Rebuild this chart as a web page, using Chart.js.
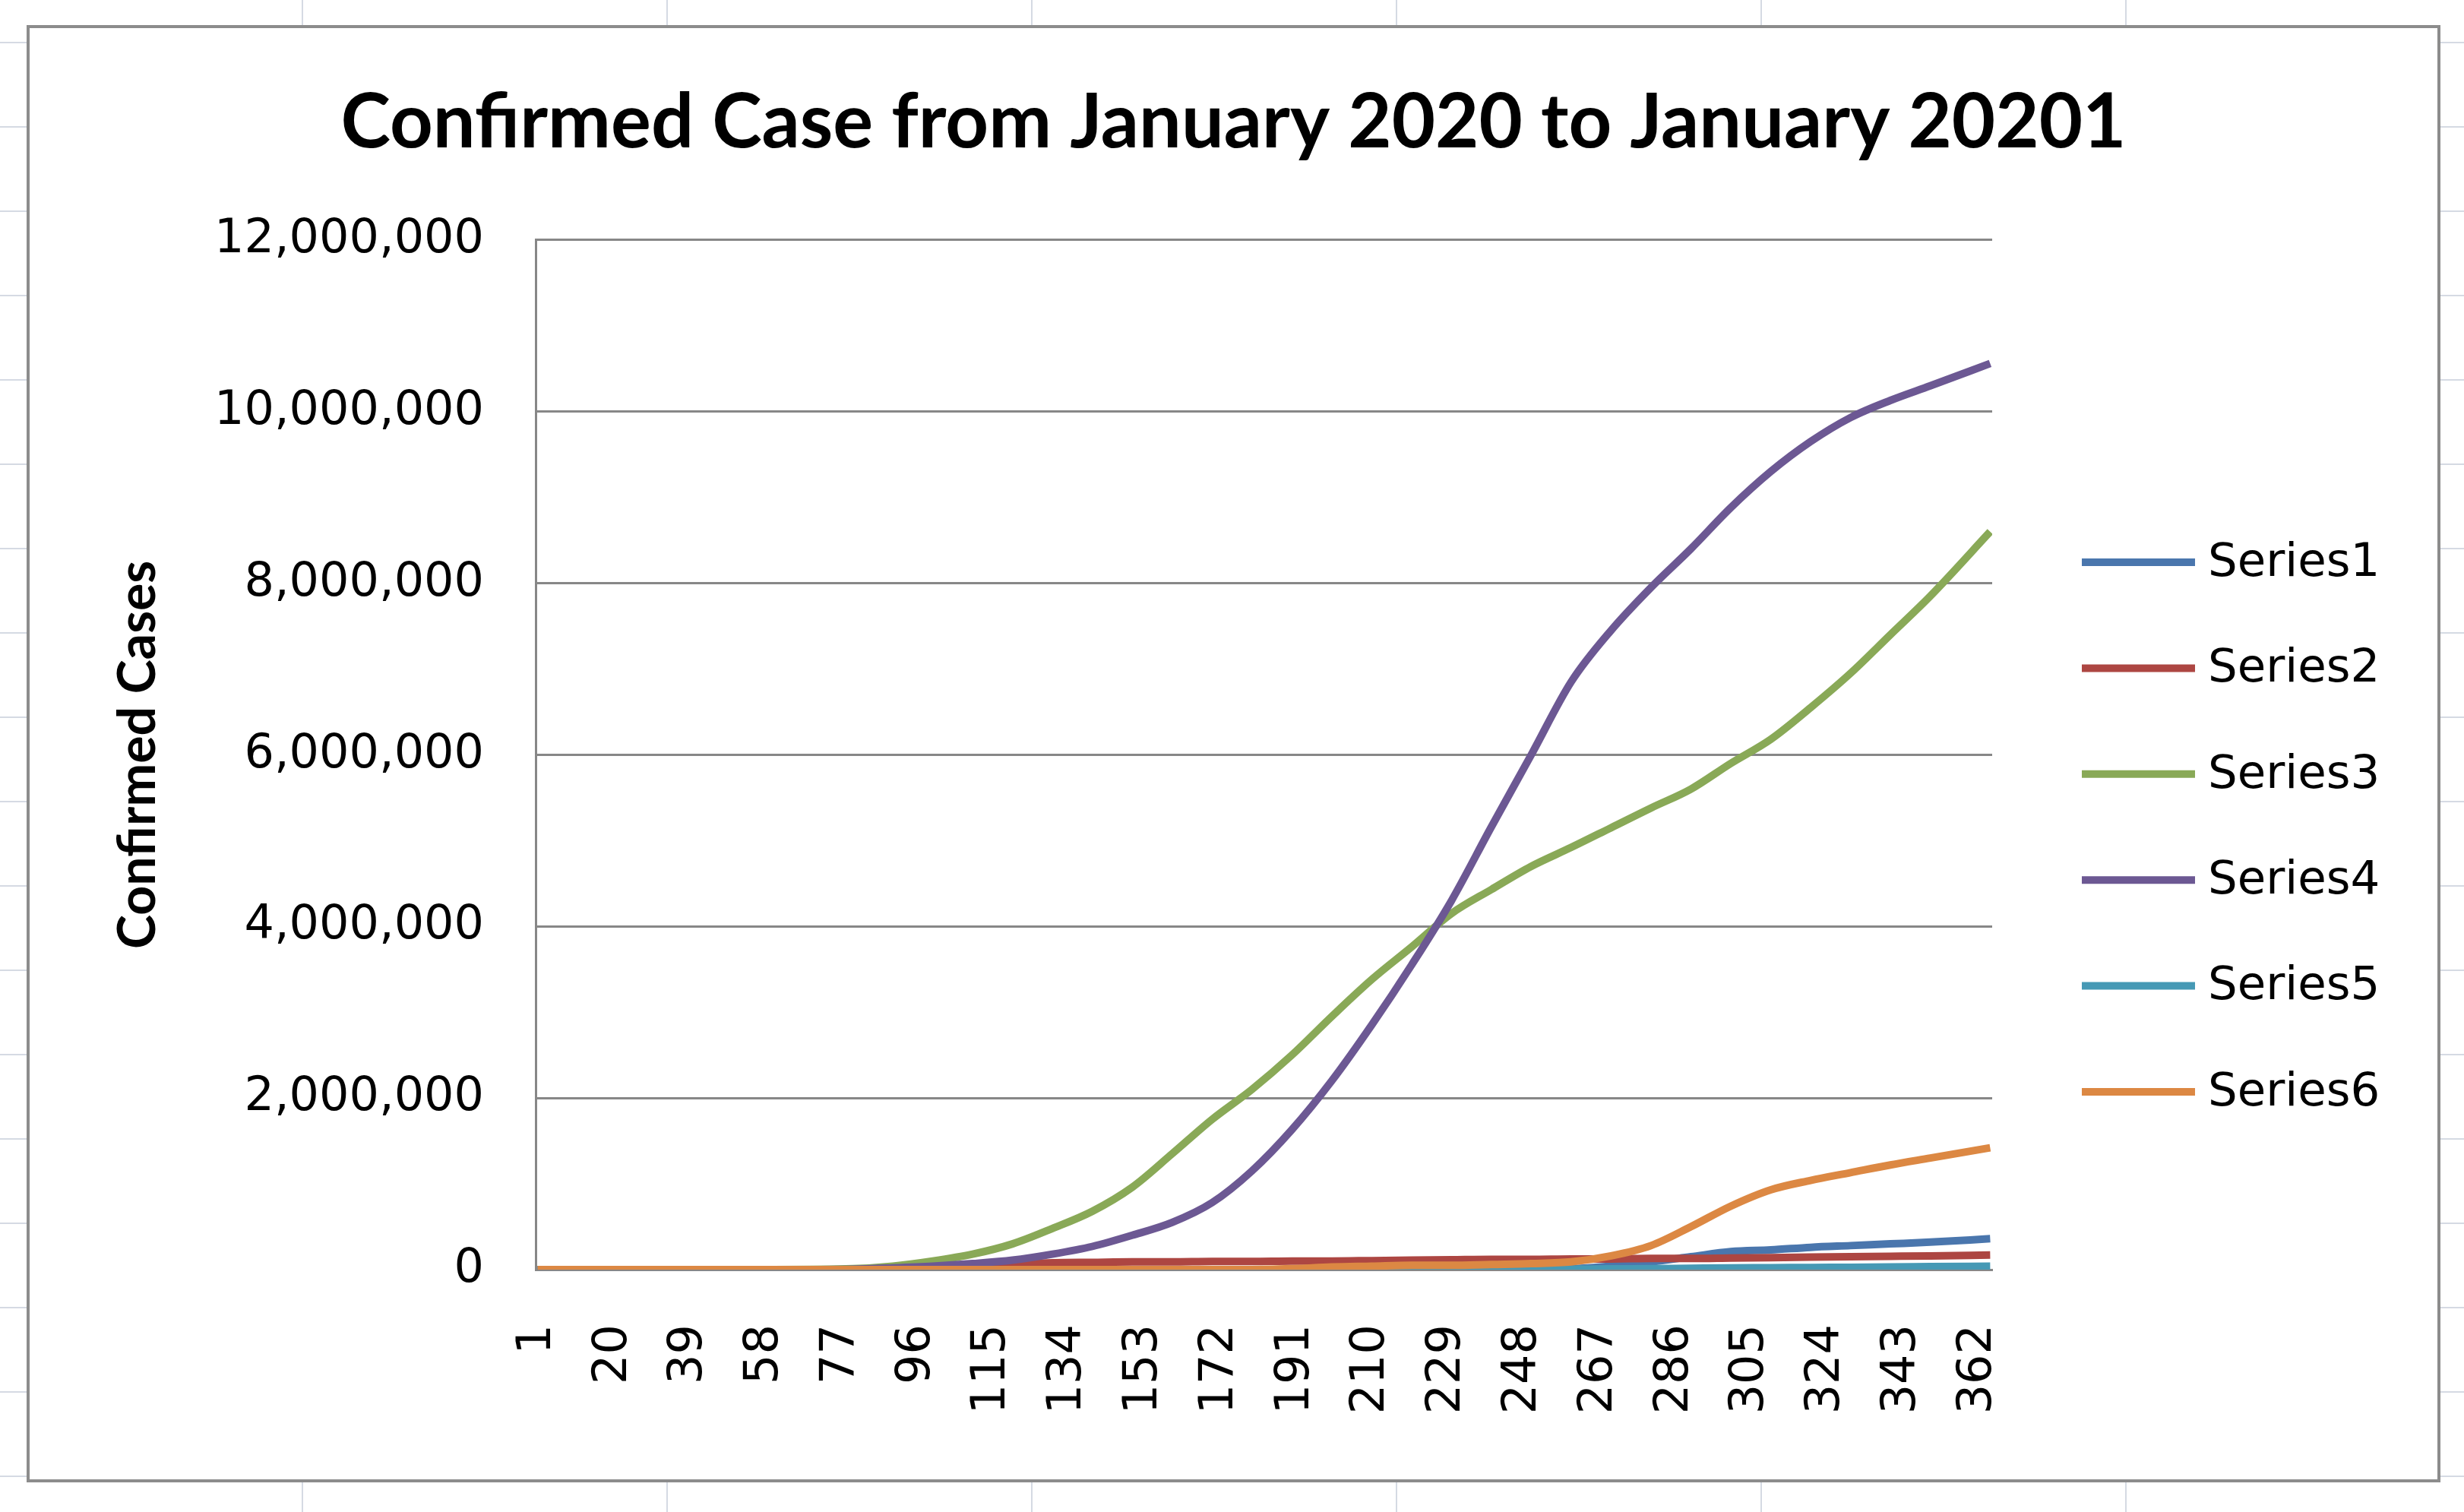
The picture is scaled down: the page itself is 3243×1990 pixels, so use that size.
<!DOCTYPE html>
<html>
<head>
<meta charset="utf-8">
<title>Confirmed Case from January 2020 to January 20201</title>
<script src="https://cdn.jsdelivr.net/npm/chart.js@4.4.1/dist/chart.umd.min.js"></script>
<style>
  html, body { margin: 0; padding: 0; }
  body {
    width: 3243px; height: 1990px; overflow: hidden; position: relative;
    background-color: #fff;
    /* worksheet cells behind the chart */
    background-image:
      linear-gradient(to right, #d5dae3 2px, transparent 2px),
      linear-gradient(to bottom, #d5dae3 2px, transparent 2px);
    background-size: 480px 100%, 100% 111px;
    background-position: 397px 0, 0 55px;
  }
  #frame {
    position: absolute; left: 35px; top: 33px;
    width: 3177px; height: 1918px; box-sizing: border-box;
    border: 4px solid #8c8c8c; background: #fff;
  }
  #chart { position: absolute; left: 0; top: 0; }
</style>
</head>
<body>
<div id="frame"><canvas id="chart" width="3169" height="1910"></canvas></div>
<script>
// ── Data ─────────────────────────────────────────────────────────
const chartTitle = 'Confirmed Case from January 2020 to January 20201';
const yTitle = 'Confirmed Cases';
const seriesNames = ['Series1', 'Series2', 'Series3', 'Series4', 'Series5', 'Series6'];

const days = [1, 20, 40, 60, 80, 90, 100, 110, 120, 130, 140, 150, 160, 170, 180, 190, 200,
  210, 220, 230, 240, 250, 260, 270, 280, 290, 300, 310, 320, 330, 340, 350, 365];

const series1 = [0, 0, 0, 0, 0, 0, 0, 0, 0, 0, 0, 0, 0, 0, 0, 0, 0,
  0, 0, 0, 0, 0, 10000, 40000, 90000, 150000, 210000, 230000, 260000, 280000, 300000, 320000, 360000];
const series2 = [0, 0, 0, 0, 0, 0, 0, 20000, 60000, 80000, 85000, 90000, 90000, 95000, 95000, 100000, 100000,
  105000, 110000, 115000, 120000, 120000, 125000, 125000, 130000, 130000, 135000, 140000, 145000, 150000, 155000, 160000, 170000];
const series3 = [0, 0, 0, 0, 10000, 40000, 100000, 180000, 300000, 480000, 680000, 960000, 1350000, 1750000, 2100000, 2500000, 2950000,
  3380000, 3760000, 4150000, 4430000, 4700000, 4920000, 5150000, 5380000, 5600000, 5900000, 6180000, 6550000, 6950000, 7400000, 7850000, 8600000];
const series4 = [0, 0, 0, 0, 5000, 20000, 40000, 70000, 110000, 180000, 270000, 400000, 550000, 780000, 1150000, 1630000, 2200000,
  2850000, 3550000, 4300000, 5160000, 6000000, 6850000, 7450000, 7950000, 8400000, 8880000, 9300000, 9650000, 9930000, 10130000, 10300000, 10560000];
const series5 = [0, 0, 0, 0, 0, 0, 0, 0, 0, 0, 0, 0, 0, 0, 0, 0, 0,
  0, 0, 0, 0, 0, 5000, 8000, 10000, 15000, 20000, 22000, 25000, 27000, 30000, 35000, 40000];
const series6 = [0, 0, 0, 0, 0, 0, 0, 0, 0, 0, 0, 0, 0, 0, 0, 10000, 30000,
  40000, 50000, 50000, 60000, 70000, 90000, 160000, 280000, 500000, 740000, 930000, 1040000, 1130000, 1220000, 1300000, 1420000];

const xTickLabels = [1, 20, 39, 58, 77, 96, 115, 134, 153, 172, 191, 210, 229, 248, 267, 286, 305, 324, 343, 362];
const yTickValues = [0, 2000000, 4000000, 6000000, 8000000, 10000000, 12000000];

const allSeries = [series1, series2, series3, series4, series5, series6];
const colors = ['#4a76ad', '#ad4642', '#89a957', '#6c5893', '#4699b5', '#dc8843'];

// ── Legend on the right, Excel style ─────────────────────────────
const sideLegend = {
  id: 'sideLegend',
  afterDraw(chart) {
    const ctx = chart.ctx;
    const x0 = chart.chartArea.right + 118;
    ctx.save();
    ctx.font = '61px "DejaVu Sans"';
    ctx.textBaseline = 'middle';
    ctx.lineWidth = 10;
    chart.data.datasets.forEach((ds, i) => {
      const y = 703 + i * 139.4;
      ctx.strokeStyle = ds.borderColor;
      ctx.beginPath(); ctx.moveTo(x0, y); ctx.lineTo(x0 + 149, y); ctx.stroke();
      ctx.fillStyle = '#000';
      ctx.fillText(ds.label, x0 + 166, y + 2);
    });
    ctx.restore();
  }
};

const tickFont = { family: 'DejaVu Sans', size: 62 };

new Chart(document.getElementById('chart'), {
  type: 'line',
  data: {
    datasets: allSeries.map((s, i) => ({
      label: seriesNames[i],
      data: days.map((d, k) => ({ x: d, y: s[k] })),
      borderColor: colors[i],
      backgroundColor: colors[i],
      borderWidth: 10,
      pointRadius: 0,
      cubicInterpolationMode: 'monotone',
      order: allSeries.length - i
    }))
  },
  options: {
    responsive: false, animation: false, devicePixelRatio: 1,
    layout: { padding: 0 },
    plugins: {
      legend: { display: false },
      tooltip: { enabled: false },
      title: {
        display: true, text: chartTitle, color: '#000',
        font: { family: 'Lato', weight: 'bold', size: 99, lineHeight: 1.2 },
        padding: { top: 66, bottom: 94 }
      }
    },
    scales: {
      x: {
        type: 'linear', min: 0.5, max: 365.5,
        afterBuildTicks: ax => { ax.ticks = xTickLabels.map(v => ({ value: v })); },
        afterFit: ax => { ax.height = 276; },
        grid: { display: false, drawTicks: false },
        border: { display: true, color: '#878787', width: 3 },
        ticks: { autoSkip: false, minRotation: 90, maxRotation: 90, padding: 72, color: '#000', font: tickFont, callback: v => String(v) }
      },
      y: {
        min: 0, max: 12000000,
        afterBuildTicks: ax => { ax.ticks = yTickValues.map(v => ({ value: v })); },
        afterFit: ax => { ax.width = 666; },
        grid: { color: '#878787', lineWidth: 3, drawTicks: false },
        border: { color: '#878787', width: 3 },
        ticks: { padding: 68, color: '#000', font: tickFont, callback: v => v.toLocaleString('en-US') },
        title: {
          display: true, text: yTitle, color: '#000',
          font: { family: 'Lato', weight: 'bold', size: 68, lineHeight: 1.2 },
          padding: { top: 102, bottom: 0 }
        }
      },
      // empty box on the right that leaves room for the legend
      yR: {
        position: 'right', display: true,
        afterFit: ax => { ax.width = 586; },
        grid: { display: false, drawTicks: false },
        border: { display: false },
        ticks: { display: false }
      }
    }
  },
  plugins: [sideLegend]
});
</script>
</body>
</html>
